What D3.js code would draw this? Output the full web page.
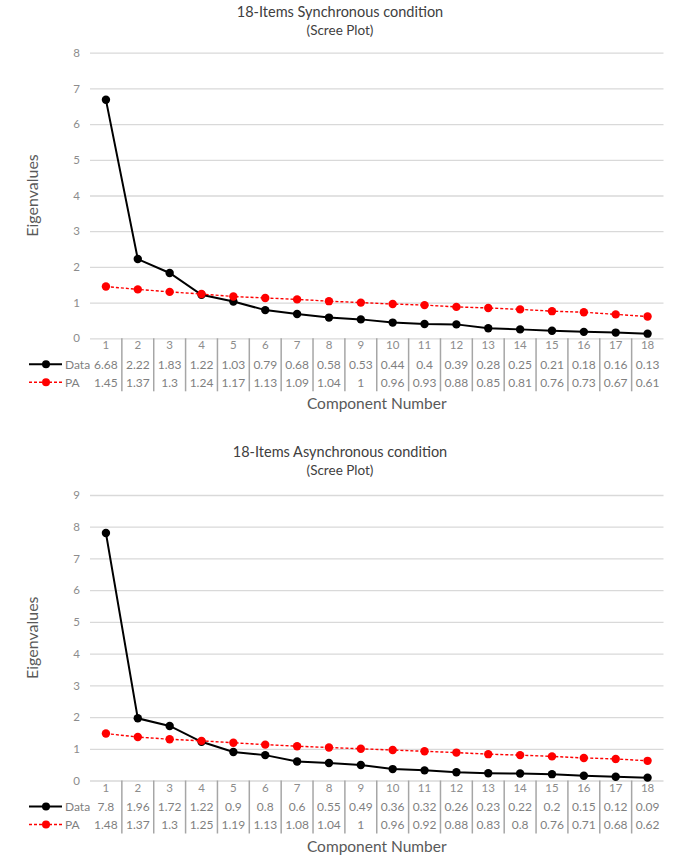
<!DOCTYPE html>
<html>
<head>
<meta charset="utf-8">
<script src="https://cdn.jsdelivr.net/npm/d3@7"></script>
<style>
  html, body { margin: 0; padding: 0; background: #fff; }
  svg { display: block; font-family: Lato, "Open Sans", sans-serif; }
</style>
</head>
<body>
<svg id="chart" width="680" height="858"></svg>
<script>
// ---- Data ----
const components = [1,2,3,4,5,6,7,8,9,10,11,12,13,14,15,16,17,18];

const syncTitle = "18-Items Synchronous condition";
const syncData = [6.68,2.22,1.83,1.22,1.03,0.79,0.68,0.58,0.53,0.44,0.4,0.39,0.28,0.25,0.21,0.18,0.16,0.13];
const syncPA   = [1.45,1.37,1.3,1.24,1.17,1.13,1.09,1.04,1,0.96,0.93,0.88,0.85,0.81,0.76,0.73,0.67,0.61];
const syncYTicks = [0,1,2,3,4,5,6,7,8];

const asyncTitle = "18-Items Asynchronous condition";
const asyncData = [7.8,1.96,1.72,1.22,0.9,0.8,0.6,0.55,0.49,0.36,0.32,0.26,0.23,0.22,0.2,0.15,0.12,0.09];
const asyncPA   = [1.48,1.37,1.3,1.25,1.19,1.13,1.08,1.04,1,0.96,0.92,0.88,0.83,0.8,0.76,0.71,0.68,0.62];
const asyncYTicks = [0,1,2,3,4,5,6,7,8,9];

const subtitle = "(Scree Plot)";
const seriesNames = ["Data", "PA"];
const xTitle = "Component Number";
const yTitle = "Eigenvalues";

// ---- Drawing ----
const svg = d3.select("#chart");

function drawChart(opt) {
  const g = svg.append("g");
  const left = 90, right = 663.5;
  const x = d3.scaleBand().domain(components).range([left, right]).padding(0);
  const y = d3.scaleLinear().domain([0, d3.max(opt.ticks)]).range([opt.bottom, opt.top]);
  const cx = d => x(d) + x.bandwidth() / 2;

  // titles
  g.append("text").attr("x", 340).attr("y", opt.titleY)
    .attr("text-anchor", "middle").attr("font-size", 14.5).attr("fill", "#404040")
    .text(opt.title);
  g.append("text").attr("x", 340).attr("y", opt.titleY + 17.5)
    .attr("text-anchor", "middle").attr("font-size", 13.5).attr("fill", "#404040")
    .text(subtitle);

  // y axis with gridlines
  const yAxis = d3.axisLeft(y).tickValues(opt.ticks).tickSizeInner(-(right - left))
    .tickSizeOuter(0).tickPadding(10).tickFormat(d3.format("d"));
  const ya = g.append("g").attr("transform", `translate(${left},0)`).call(yAxis);
  ya.select(".domain").remove();
  ya.selectAll(".tick line").attr("stroke", "#d9d9d9").attr("stroke-width", 1.3);
  ya.selectAll(".tick text").attr("fill", "#8c8c8c").attr("font-size", 11.5)
    .attr("font-family", "Lato, 'Open Sans', sans-serif");

  // y title
  g.append("text")
    .attr("transform", `translate(38,${(opt.top + opt.bottom) / 2}) rotate(-90)`)
    .attr("text-anchor", "middle").attr("font-size", 16).attr("fill", "#595959")
    .text(yTitle);

  // data table: separators
  const tTop = opt.bottom, tBot = opt.bottom + 53;
  g.append("g").selectAll("line").data(components.slice(1)).join("line")
    .attr("x1", d => x(d)).attr("x2", d => x(d))
    .attr("y1", tTop).attr("y2", tBot)
    .attr("stroke", "#a6a6a6").attr("stroke-width", 1.5);

  // category labels
  const xAxis = d3.axisBottom(x).tickSize(0).tickPadding(0);
  const xa = g.append("g").attr("transform", `translate(0,${opt.bottom + 3})`).call(xAxis);
  xa.select(".domain").remove();
  xa.selectAll(".tick text").attr("fill", "#8c8c8c").attr("font-size", 11.5)
    .attr("font-family", "Lato, 'Open Sans', sans-serif");

  // table rows
  const rows = [
    { name: seriesNames[0], vals: opt.data, color: "#000", dash: null, y: opt.bottom + 26 },
    { name: seriesNames[1], vals: opt.pa, color: "#ff0000", dash: "3,2", y: opt.bottom + 44 }
  ];
  rows.forEach(r => {
    g.append("g").selectAll("text").data(r.vals).join("text")
      .attr("x", (d, i) => cx(components[i])).attr("y", r.y + 4.5)
      .attr("text-anchor", "middle").attr("font-size", 12).attr("fill", "#7f7f7f")
      .text(d => String(d));
    g.append("line").attr("x1", 29).attr("x2", 62).attr("y1", r.y).attr("y2", r.y)
      .attr("stroke", r.color).attr("stroke-width", r.dash ? 1.5 : 2)
      .attr("stroke-dasharray", r.dash);
    g.append("circle").attr("cx", 46).attr("cy", r.y).attr("r", 4).attr("fill", r.color);
    g.append("text").attr("x", 65).attr("y", r.y + 4.5).attr("font-size", 12)
      .attr("fill", "#7f7f7f").text(r.name);
  });

  // x title
  g.append("text").attr("x", (left + right) / 2).attr("y", opt.bottom + 71)
    .attr("text-anchor", "middle").attr("font-size", 15.5).attr("fill", "#595959")
    .text(xTitle);

  // series lines
  const line = d3.line().x((d, i) => cx(components[i])).y(d => y(d));
  g.append("path").datum(opt.data).attr("d", line).attr("fill", "none")
    .attr("stroke", "#000").attr("stroke-width", 2);
  g.append("g").selectAll("circle").data(opt.data).join("circle")
    .attr("cx", (d, i) => cx(components[i])).attr("cy", d => y(d)).attr("r", 4.2).attr("fill", "#000");
  g.append("path").datum(opt.pa).attr("d", line).attr("fill", "none")
    .attr("stroke", "#ff0000").attr("stroke-width", 1.4).attr("stroke-dasharray", "3,2");
  g.append("g").selectAll("circle").data(opt.pa).join("circle")
    .attr("cx", (d, i) => cx(components[i])).attr("cy", d => y(d)).attr("r", 4.2).attr("fill", "#ff0000");
}

drawChart({ title: syncTitle, data: syncData, pa: syncPA, ticks: syncYTicks,
  titleY: 17, top: 52.7, bottom: 338.3 });
drawChart({ title: asyncTitle, data: asyncData, pa: asyncPA, ticks: asyncYTicks,
  titleY: 457, top: 495, bottom: 780.5 });
</script>
</body>
</html>
